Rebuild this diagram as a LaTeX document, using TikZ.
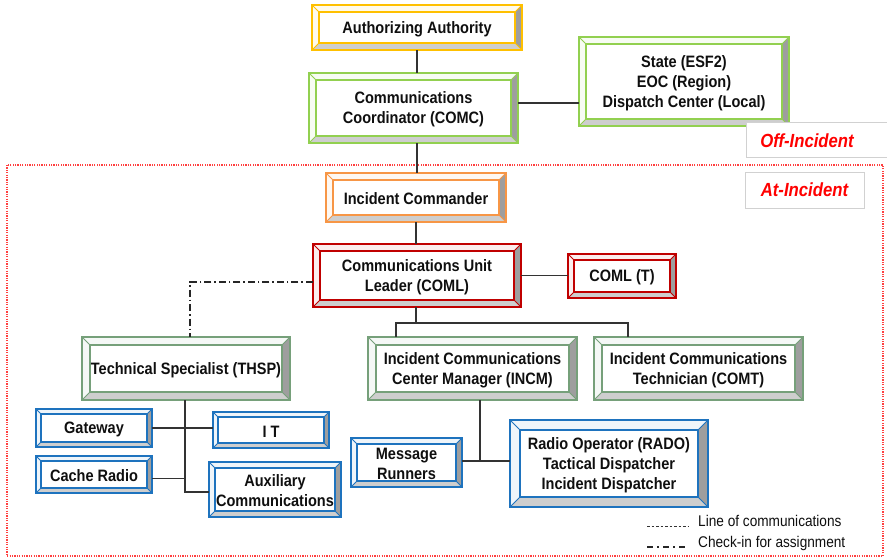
\documentclass[tikz,border=0pt]{standalone}
\usepackage{fontspec}
\setmainfont{Liberation Sans}[FakeStretch=0.88]
\definecolor{cgold}{RGB}{255,192,0}
\definecolor{cgreen}{RGB}{146,208,80}
\definecolor{corange}{RGB}{247,150,70}
\definecolor{cred}{RGB}{192,0,0}
\definecolor{csage}{RGB}{118,160,122}
\definecolor{cblue}{RGB}{30,115,190}
\definecolor{cdark}{RGB}{158,158,158}
\definecolor{clight}{RGB}{206,206,206}
\definecolor{ctxt}{RGB}{15,15,15}
\tikzset{
  boxtext/.style={font=\bfseries\fontsize{16.5}{20}\selectfont, align=center, text=ctxt, inner sep=0pt},
  conn/.style={draw=black!80, line width=1.3pt},
  checkin/.style={draw=black!85, line width=1.3pt, dash pattern=on 7pt off 3pt on 1.5pt off 3pt},
  lbl/.style={draw=black!18, fill=white, line width=0.8pt, font=\bfseries\itshape\fontsize{19}{22}\selectfont, text=red, inner sep=0pt},
  legtext/.style={font=\fontsize{15.5}{20}\selectfont, text=ctxt, anchor=west, inner sep=0pt},
}
\newcommand\bw{7}
\newcommand\bevelbox[7]{%
  \fill[white] (#2,#3) rectangle (#4,#5);
  \fill[#6!7] (#2,#3) -- (#4,#3) -- (#4-\bw,#3+\bw) -- (#2+\bw,#3+\bw) -- cycle;
  \fill[#6!7] (#2,#3) -- (#2+\bw,#3+\bw) -- (#2+\bw,#5-\bw) -- (#2,#5) -- cycle;
  \fill[cdark] (#4,#3) -- (#4,#5) -- (#4-\bw,#5-\bw) -- (#4-\bw,#3+\bw) -- cycle;
  \fill[clight] (#2,#5) -- (#4,#5) -- (#4-\bw,#5-\bw) -- (#2+\bw,#5-\bw) -- cycle;
  \draw[#6, line width=0.8pt] (#2,#3) -- (#2+\bw,#3+\bw) (#4,#3) -- (#4-\bw,#3+\bw) (#2,#5) -- (#2+\bw,#5-\bw) (#4,#5) -- (#4-\bw,#5-\bw);
  \draw[#6, line width=1.2pt] (#2+\bw,#3+\bw) rectangle (#4-\bw,#5-\bw);
  \draw[#6, line width=1.6pt] (#2,#3) rectangle (#4,#5);
  \node[boxtext, minimum width={#4-#2}, minimum height={#5-#3}] (#1) at ({(#2+#4)/2},{(#3+#5)/2}) {};
  \node[boxtext] (#1-t) at ([yshift=-1.5pt]#1.center) {#7};
}
\begin{document}
\begin{tikzpicture}[x=1pt,y=-1pt]
\useasboundingbox (0,0) rectangle (887,558);
\fill[white] (0,0) rectangle (887,558);
% at-incident region
\draw[red!75, line width=1.3pt, dash pattern=on 1.2pt off 1.2pt] (7,165) rectangle (883,556);
% boxes
\renewcommand\bw{7}
\bevelbox{auth}{312}{5}{522}{50}{cgold}{Authorizing Authority}
\bevelbox{comc}{309}{73}{518}{143}{cgreen}{Communications\\Coordinator (COMC)}
\bevelbox{state}{579}{37}{789}{126}{cgreen}{State (ESF2)\\EOC (Region)\\Dispatch Center (Local)}
\bevelbox{ic}{326}{173}{506}{222}{corange}{Incident Commander}
\bevelbox{coml}{313}{244}{521}{307}{cred}{Communications Unit\\Leader (COML)}
\renewcommand\bw{6}
\bevelbox{comlt}{568}{254}{676}{298}{cred}{COML (T)}
\renewcommand\bw{8}
\bevelbox{thsp}{82}{337}{290}{400}{csage}{Technical Specialist (THSP)}
\bevelbox{incm}{368}{337}{577}{400}{csage}{Incident Communications\\Center Manager (INCM)}
\bevelbox{comt}{594}{337}{803}{400}{csage}{Incident Communications\\Technician (COMT)}
\renewcommand\bw{5}
\bevelbox{gate}{36}{409}{152}{447}{cblue}{Gateway}
\bevelbox{it}{213}{412}{329}{448}{cblue}{I T}
\bevelbox{cache}{36}{456}{152}{493}{cblue}{Cache Radio}
\renewcommand\bw{6}
\bevelbox{aux}{209}{462}{341}{517}{cblue}{Auxiliary\\Communications}
\bevelbox{msg}{351}{438}{462}{487}{cblue}{Message\\Runners}
\renewcommand\bw{10}
\bevelbox{rado}{510}{420}{708}{507}{cblue}{Radio Operator (RADO)\\Tactical Dispatcher\\Incident Dispatcher}
% labels
\draw[black!18, line width=0.8pt, fill=white] (895,122) -- (746,122) -- (746,157) -- (895,157);
\node[font=\bfseries\itshape\fontsize{19}{22}\selectfont, text=red, inner sep=0pt] (off) at (807,141) {Off-Incident};
\node[lbl, minimum width=119, minimum height=36] (atinc) at (804.5,190) {At-Incident};
% connectors
\coordinate (mx) at (417,0);
\coordinate (mx2) at (416,0);
\draw[conn] (auth.south -| mx) -- (comc.north -| mx);
\draw[conn] (comc.south -| mx) -- (ic.north -| mx);
\draw[conn] ([yshift=5pt]comc.east) -- ([yshift=5pt]comc.east -| state.west);
\draw[conn] (ic.south -| mx2) -- (coml.north -| mx2);
\draw[conn] (coml.east) -- (coml.east -| comlt.west);
\coordinate (bl) at (396,323);
\coordinate (brr) at (628,323);
\coordinate (bm) at (416,323);
\draw[conn] (coml.south -| bm) -- (bm);
\draw[conn] (bl |- incm.north) -- (bl) -- (brr) -- (brr |- comt.north);
\coordinate (dd) at (190,282);
\draw[checkin] ([yshift=-6.5pt]coml.west) -- (dd) -- (dd |- thsp.north);
\coordinate (tv) at (185,492);
\draw[conn] (thsp.south -| tv) -- (tv) -- (tv -| aux.west);
\draw[conn] (gate.east) -- (gate.east -| it.west);
\draw[conn] ([yshift=-4pt]cache.east) -- ([yshift=-4pt]cache.east -| tv);
\coordinate (iv) at (480,461);
\draw[conn] (incm.south -| iv) -- (iv);
\draw[conn] (msg.east |- iv) -- (iv -| rado.west);
% legend
\coordinate (l1a) at (647,526);
\coordinate (l1b) at (688,526);
\coordinate (l2a) at (647,547);
\coordinate (l2b) at (688,547);
\draw[black!80, line width=0.8pt, dash pattern=on 2.5pt off 2pt] (l1a) -- (l1b);
\draw[black!85, line width=1.2pt, dash pattern=on 6pt off 4pt on 2pt off 4pt] (l2a) -- (l2b);
\node[legtext] (leg1) at (698,521) {Line of communications};
\node[legtext] (leg2) at (698,543) {Check-in for assignment};
\end{tikzpicture}
\end{document}
